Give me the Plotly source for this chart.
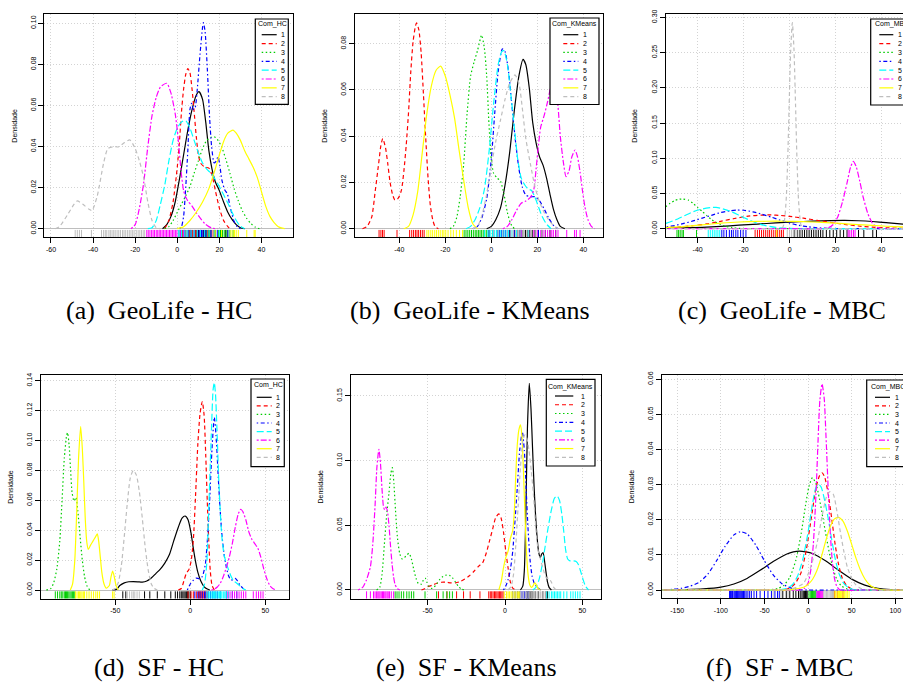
import plotly.graph_objects as go

W, H = 903, 684

COLORS = ["#000000", "#FF0000", "#00CD00", "#0000FF", "#00FFFF", "#FF00FF", "#FFFF00", "#BEBEBE"]
DASHES = ["solid", "4px,3px", "1.5px,2.5px", "1.5px,2.5px,4px,2.5px", "7px,3px",
          "2px,2px,6px,2px", "solid", "4px,3px"]
CLUSTER_LABELS = ["1", "2", "3", "4", "5", "6", "7", "8"]

# ---------------- (a) GeoLife - HC : density curves (x, density) ----------------
GEO_HC_1 = [(-7,0),(-5,0.002),(-3,0.006),(-1,0.013),(1,0.024),(3,0.036),(5,0.048),(7,0.058),(9,0.065),(10.3,0.0667),(12,0.063),(13.5,0.052),(15,0.038),(16.5,0.029),(18,0.023),(20,0.0185),(22,0.013),(24,0.008),(26,0.0045),(28,0.002),(30,0.0005),(32,0)]
GEO_HC_2 = [(-6,0),(-4,0.004),(-2,0.013),(0,0.03),(1,0.042),(2,0.057),(3,0.068),(4,0.075),(5,0.078),(6,0.076),(7,0.068),(8,0.057),(9,0.045),(10,0.036),(11,0.032),(13,0.030),(15,0.0295),(16.5,0.026),(18,0.019),(20,0.010),(22,0.004),(24,0.001),(25,0)]
GEO_HC_3 = [(-6,0),(-4,0.001),(-2,0.004),(0,0.008),(2,0.012),(4,0.016),(6,0.0205),(8,0.027),(10,0.033),(12,0.039),(14,0.043),(16,0.0445),(17.5,0.0448),(19,0.0435),(21,0.040),(23,0.034),(25,0.027),(27,0.0195),(29,0.0135),(31,0.0085),(33,0.005),(35,0.0025),(37,0.0008),(39,0)]
GEO_HC_4 = [(1,0),(2,0.001),(3,0.006),(4,0.02),(5,0.038),(6,0.058),(6.8,0.061),(7.6,0.058),(8.5,0.059),(9.5,0.068),(10.8,0.085),(12,0.098),(12.4,0.1003),(13.2,0.096),(14.3,0.077),(15.3,0.055),(16.3,0.040),(17.5,0.032),(18.5,0.033),(19.3,0.035),(20.2,0.031),(21.1,0.024),(22.5,0.019),(23.8,0.017),(25,0.011),(26,0.007),(27,0.0035),(28.5,0.001),(30,0)]
GEO_HC_5 = [(-14,0),(-12,0.0005),(-10,0.004),(-8,0.012),(-6,0.021),(-4,0.033),(-2,0.043),(0,0.049),(2,0.052),(4,0.0526),(6,0.049),(8,0.043),(10,0.037),(12,0.032),(14,0.029),(16,0.027),(18,0.024),(20,0.0205),(22,0.0165),(24,0.0125),(26,0.008),(28,0.004),(30,0.0012),(32,0)]
GEO_HC_6 = [(-22,0),(-20,0.002),(-18,0.01),(-16,0.022),(-14,0.04),(-12,0.055),(-10,0.064),(-8,0.069),(-5,0.0708),(-3,0.066),(-1,0.056),(0,0.048),(1,0.037),(2,0.026),(3,0.0185),(4,0.0155),(5,0.0135),(7,0.011),(9,0.0078),(11,0.005),(13,0.0025),(15,0.001),(17,0.0002),(19,0)]
GEO_HC_7 = [(0,0),(3,0.001),(6,0.004),(9,0.008),(12,0.013),(15,0.0195),(18,0.029),(20,0.036),(22,0.0425),(24,0.0465),(26.5,0.048),(28,0.0465),(30,0.043),(32,0.038),(34,0.034),(36,0.030),(38,0.025),(40,0.018),(42,0.011),(44,0.006),(46,0.003),(48,0.001),(51,0)]
GEO_HC_8 = [(-58,0),(-56,0.001),(-52,0.007),(-49,0.012),(-47.5,0.0135),(-45,0.012),(-42,0.0095),(-40.5,0.0088),(-38,0.016),(-35,0.032),(-33,0.039),(-30,0.040),(-28,0.0398),(-25,0.042),(-22.5,0.0432),(-20,0.039),(-18,0.033),(-16,0.025),(-14,0.013),(-12,0.004),(-10,0.0005),(-8,0)]

# ---------------- (b) GeoLife - KMeans ----------------
GEO_KM_1 = [(-2,0),(0,0.001),(2,0.004),(4,0.009),(6,0.019),(8,0.033),(10,0.051),(12,0.066),(13.8,0.0732),(15,0.071),(16.5,0.061),(18,0.046),(19.5,0.037),(21,0.031),(22.5,0.0275),(24,0.022),(25.5,0.015),(27,0.0085),(28.5,0.004),(30,0.001),(32,0)]
GEO_KM_2 = [(-56,0),(-54,0.001),(-52,0.005),(-50.5,0.016),(-49,0.028),(-48,0.036),(-47.2,0.039),(-46,0.035),(-45,0.028),(-44,0.020),(-43,0.015),(-42,0.0125),(-41,0.0125),(-40,0.014),(-39,0.017),(-38,0.025),(-37,0.036),(-36,0.05),(-35,0.068),(-34,0.081),(-33,0.0875),(-32.5,0.089),(-31.5,0.086),(-30.5,0.076),(-29.5,0.058),(-28.5,0.039),(-27.5,0.022),(-26.5,0.01),(-25.5,0.004),(-24.5,0.001),(-23,0)]
GEO_KM_3 = [(-18,0),(-16.5,0.001),(-15,0.005),(-13.5,0.014),(-12,0.028),(-10.5,0.05),(-9,0.066),(-7.5,0.072),(-6,0.077),(-4.2,0.0837),(-3,0.078),(-2,0.066),(-1,0.045),(0,0.03),(1,0.024),(2.5,0.022),(4,0.0205),(5.5,0.015),(7,0.007),(8.5,0.002),(10,0)]
GEO_KM_4 = [(-8,0),(-6,0.001),(-4,0.005),(-2,0.013),(0,0.03),(1.5,0.05),(3,0.068),(4.8,0.0778),(6,0.0765),(7.5,0.068),(9,0.053),(10.5,0.038),(12,0.026),(13.5,0.018),(15,0.0145),(17,0.0138),(19,0.0138),(21,0.012),(23,0.0085),(25,0.0045),(27,0.0015),(29,0)]
GEO_KM_5 = [(-11,0),(-9,0.001),(-7,0.004),(-5,0.009),(-3,0.017),(-1,0.033),(1,0.054),(3,0.071),(4.5,0.0765),(5.5,0.077),(7,0.071),(8.5,0.058),(10,0.044),(11.5,0.030),(13,0.022),(14.5,0.019),(16,0.0172),(17.5,0.0165),(19,0.0135),(20.5,0.0095),(22,0.0055),(24,0.002),(26,0)]
GEO_KM_6 = [(5,0),(7,0.001),(9,0.004),(11,0.008),(13,0.011),(15,0.012),(17,0.0135),(18.5,0.017),(19.5,0.026),(20.5,0.036),(21.5,0.044),(23,0.049),(24.5,0.055),(26,0.062),(27,0.0643),(28,0.061),(29,0.053),(30,0.04),(31.3,0.029),(32.5,0.0225),(33.8,0.025),(35,0.031),(36.4,0.034),(37.5,0.031),(38.6,0.0245),(39.7,0.016),(40.7,0.0095),(42,0.004),(43.5,0.001),(45,0)]
GEO_KM_7 = [(-38,0),(-36,0.001),(-34,0.006),(-32,0.016),(-30,0.033),(-28,0.05),(-26,0.062),(-24,0.0685),(-22,0.0703),(-20,0.066),(-18,0.058),(-16,0.048),(-14,0.034),(-12,0.021),(-10,0.009),(-8,0.002),(-6,0)]
GEO_KM_8 = [(-8,0),(-6,0.001),(-4,0.006),(-2,0.015),(0,0.027),(2,0.038),(4,0.047),(6,0.056),(8,0.063),(10.3,0.0665),(12,0.063),(13.5,0.052),(15,0.039),(17,0.028),(19,0.018),(21,0.0115),(23,0.007),(25,0.0038),(27,0.0015),(29,0)]

# ---------------- (c) GeoLife - MBC ----------------
GEO_MBC_1 = [(-58,0.0005),(-54,0.0008),(-46,0.0013),(-38,0.002),(-30,0.0033),(-22,0.005),(-14,0.0066),(-6,0.0082),(2,0.0096),(10,0.0108),(18,0.0116),(24,0.0118),(30,0.0113),(36,0.0102),(42,0.0085),(49.3,0.0065),(53,0.0055)]
GEO_MBC_2 = [(-58,0.0012),(-54,0.0015),(-48,0.0025),(-42,0.0042),(-36,0.0068),(-30,0.0105),(-24,0.0145),(-18,0.0178),(-12,0.0193),(-8,0.0195),(-4,0.0188),(0,0.0175),(6,0.015),(12,0.0118),(18,0.0088),(24,0.006),(30,0.0038),(36,0.0022),(42,0.0012),(49.3,0.0006),(53,0.0004)]
GEO_MBC_3 = [(-58,0.021),(-54,0.031),(-52,0.036),(-50,0.040),(-48,0.0418),(-46.5,0.042),(-44,0.0405),(-42,0.036),(-40,0.030),(-38,0.0245),(-36,0.0185),(-34,0.013),(-32,0.009),(-30,0.006),(-28,0.0035),(-25,0.0015),(-22,0.0005),(-18,0),(0,0),(30,0),(53,0)]
GEO_MBC_4 = [(-58,0.0012),(-54,0.0025),(-50,0.0045),(-46,0.0075),(-42,0.011),(-38,0.015),(-34,0.019),(-30,0.023),(-26,0.0255),(-23,0.0265),(-20,0.0262),(-16,0.024),(-12,0.0205),(-8,0.0165),(-4,0.012),(0,0.008),(4,0.0048),(8,0.0027),(12,0.0013),(16,0.0006),(20,0.0002),(26,0),(40,0),(53,0)]
GEO_MBC_5 = [(-58,0.004),(-54,0.0075),(-50,0.012),(-46,0.018),(-42,0.024),(-38,0.028),(-34,0.030),(-32,0.0302),(-30,0.029),(-26,0.025),(-22,0.019),(-18,0.013),(-14,0.0075),(-10,0.004),(-6,0.0018),(-2,0.0007),(2,0.0002),(8,0),(30,0),(53,0)]
GEO_MBC_6 = [(-58,0),(-30,0),(0,0),(14,0),(17,0.0015),(19,0.006),(21,0.017),(23,0.038),(25,0.065),(26.5,0.087),(27.7,0.0956),(29,0.088),(30.5,0.068),(32,0.045),(34,0.022),(36,0.008),(38,0.002),(40,0.0003),(42,0),(53,0)]
GEO_MBC_7 = [(-58,0.0008),(-54,0.0015),(-46,0.003),(-38,0.0055),(-30,0.0078),(-22,0.0095),(-14,0.0104),(-6,0.0107),(2,0.0104),(10,0.0095),(18,0.0082),(26,0.0066),(34,0.005),(42,0.0035),(49.3,0.0025),(53,0.002)]
GEO_MBC_8 = [(-58,0),(-30,0),(-10,0),(-3.5,0),(-2.5,0.006),(-1.5,0.04),(-0.8,0.1),(-0.2,0.175),(0.5,0.255),(1.2,0.2925),(1.9,0.255),(2.6,0.175),(3.2,0.1),(3.9,0.04),(4.9,0.006),(6,0),(15,0),(53,0)]

# ---------------- (d) SF - HC ----------------
SF_HC_1 = [(-52,0),(-49,0.0005),(-47,0.003),(-44,0.0048),(-41,0.0055),(-38,0.0056),(-35,0.0055),(-32,0.0053),(-29,0.006),(-26,0.008),(-23,0.011),(-20,0.014),(-17,0.018),(-14,0.0235),(-11,0.033),(-8,0.042),(-5.5,0.048),(-3.5,0.0495),(-1.5,0.047),(0.5,0.038),(2,0.028),(3.5,0.019),(5,0.012),(7,0.006),(9,0.0025),(11,0.0008),(13,0)]
SF_HC_2 = [(-8,0),(-6,0.001),(-4,0.007),(-2.5,0.0115),(-1,0.0135),(0.5,0.019),(2,0.033),(3.5,0.063),(5,0.097),(6.5,0.118),(8,0.126),(9.2,0.117),(10.3,0.09),(11.3,0.06),(12.3,0.033),(13.3,0.013),(14.5,0.003),(16,0)]
SF_HC_3 = [(-96,0),(-93,0.001),(-91,0.005),(-89,0.014),(-87,0.033),(-85.5,0.06),(-84,0.088),(-82.5,0.103),(-81.8,0.1052),(-80.8,0.097),(-79.8,0.08),(-78.8,0.065),(-77.5,0.0595),(-76.2,0.062),(-75,0.053),(-73.5,0.036),(-72,0.02),(-70.5,0.009),(-69,0.003),(-67,0)]
SF_HC_4 = [(-2,0),(0,0.004),(2,0.0065),(4,0.008),(6,0.0075),(8,0.009),(10,0.017),(11.5,0.035),(13,0.062),(14.5,0.095),(16,0.1155),(17.2,0.103),(18.5,0.078),(19.8,0.055),(21,0.038),(22.5,0.024),(24,0.0155),(25.5,0.0095),(27,0.0068),(28.5,0.0068),(30,0.0078),(31.5,0.006),(33,0.0035),(35,0.0012),(37,0)]
SF_HC_5 = [(8,0),(9.5,0.004),(11,0.018),(12,0.045),(13,0.075),(14.2,0.11),(15.2,0.134),(16,0.1387),(16.8,0.131),(17.8,0.107),(18.8,0.078),(19.8,0.056),(21,0.036),(22.5,0.0235),(24,0.018),(25.5,0.0135),(27,0.0095),(29,0.006),(31,0.0045),(33,0.0028),(35,0.001),(37,0)]
SF_HC_6 = [(14,0),(16,0.0005),(18,0.002),(20,0.0045),(22,0.009),(24,0.015),(26,0.022),(28,0.031),(30,0.042),(32,0.051),(33.6,0.054),(35,0.0525),(37,0.047),(39,0.039),(41,0.034),(43,0.031),(45,0.028),(47,0.022),(49,0.014),(51,0.0075),(53,0.003),(55,0.001),(57,0)]
SF_HC_7 = [(-80,0),(-78.5,0.004),(-77,0.02),(-75.8,0.05),(-74.5,0.088),(-73.1,0.1093),(-72,0.095),(-71,0.072),(-70,0.047),(-69,0.032),(-68,0.0272),(-66.5,0.030),(-65,0.0325),(-63.5,0.035),(-62,0.0375),(-61,0.032),(-60,0.022),(-59,0.012),(-57.5,0.004),(-56,0.0012),(-54,0.003),(-53,0.008),(-51.8,0.0127),(-50.7,0.009),(-49.5,0.003),(-48,0)]
SF_HC_8 = [(-52,0),(-50,0.001),(-48,0.005),(-46,0.016),(-44,0.036),(-42,0.058),(-40,0.075),(-38,0.080),(-36,0.077),(-34,0.066),(-32,0.048),(-30,0.028),(-28,0.013),(-26,0.004),(-24,0.001),(-22,0)]

# ---------------- (e) SF - KMeans ----------------
SF_KM_1 = [(10,0),(11.5,0.003),(12.5,0.015),(13.5,0.06),(14.5,0.125),(15.7,0.1598),(16.8,0.14),(17.8,0.11),(18.8,0.08),(19.8,0.057),(20.8,0.04),(21.8,0.029),(22.8,0.025),(23.8,0.028),(24.6,0.029),(25.5,0.023),(26.5,0.014),(27.5,0.006),(28.5,0.002),(30,0)]
SF_KM_2 = [(-54,0),(-52,0.001),(-50,0.0025),(-47,0.0037),(-44,0.0052),(-41,0.006),(-38,0.006),(-35,0.0055),(-32,0.0055),(-29,0.0065),(-26,0.0085),(-23,0.011),(-20,0.0145),(-17,0.0185),(-14.5,0.021),(-12,0.029),(-10,0.038),(-8,0.047),(-6,0.056),(-4,0.0588),(-2.5,0.0555),(-1,0.045),(0.5,0.03),(2,0.017),(3.5,0.006),(5,0.0015),(7,0)]
SF_KM_3 = [(-83,0),(-81,0.002),(-79.5,0.012),(-78,0.035),(-76.5,0.058),(-75,0.075),(-73.8,0.09),(-72.8,0.0946),(-71.8,0.082),(-70.8,0.062),(-69.5,0.04),(-68,0.028),(-66.5,0.024),(-65,0.025),(-63.5,0.027),(-62,0.0284),(-60.5,0.024),(-59,0.016),(-57.5,0.009),(-56,0.005),(-54,0.0045),(-52.5,0.0085),(-51.5,0.009),(-50.5,0.006),(-49,0.0025),(-47.5,0.0012),(-46,0.002),(-44,0.005),(-42,0.0085),(-40,0.0105),(-38,0.0115),(-36,0.0114),(-34,0.0095),(-32,0.006),(-30,0.0025),(-28,0.0006),(-26,0)]
SF_KM_4 = [(-1,0),(0.5,0.003),(2,0.008),(3.5,0.016),(5,0.03),(6.5,0.054),(8,0.08),(9.5,0.108),(11.2,0.1224),(12.5,0.108),(13.6,0.08),(15,0.045),(16.3,0.022),(17.5,0.011),(19,0.005),(21,0.002),(23,0)]
SF_KM_5 = [(18,0),(20,0.002),(22,0.008),(24,0.019),(26,0.034),(28,0.049),(30,0.062),(32,0.071),(33.8,0.0727),(35.3,0.069),(36.8,0.058),(38,0.045),(39.2,0.031),(40.5,0.024),(42,0.0225),(44,0.0225),(46,0.022),(47.5,0.0195),(49,0.014),(50.5,0.008),(52,0.003),(54,0)]
SF_KM_6 = [(-95,0),(-92,0.002),(-89.5,0.008),(-87,0.018),(-85.5,0.035),(-84,0.065),(-82.8,0.095),(-81.5,0.1088),(-80.5,0.098),(-79.5,0.078),(-78.5,0.064),(-77.7,0.062),(-76.9,0.064),(-76,0.061),(-75,0.05),(-74,0.034),(-73,0.02),(-72,0.01),(-71,0.004),(-69.5,0.001),(-68,0)]
SF_KM_7 = [(-4,0),(-2.5,0.006),(-1,0.017),(0.5,0.025),(2,0.03),(3.5,0.04),(5,0.046),(6,0.06),(7,0.09),(8,0.113),(9,0.124),(10,0.1276),(11,0.118),(12,0.09),(13,0.055),(14,0.027),(15,0.011),(16,0.004),(17,0.002),(18,0.003),(19.2,0.0055),(20.3,0.004),(21.5,0.001),(23,0)]
SF_KM_8 = [(2,0),(4,0.003),(5.5,0.012),(7,0.035),(8.5,0.065),(10,0.095),(11.5,0.115),(12.8,0.12),(14,0.118),(15.5,0.108),(17,0.092),(18.3,0.075),(19.5,0.055),(20.5,0.04),(21.5,0.03),(22.7,0.025),(24,0.019),(25.5,0.013),(27,0.009),(28.5,0.009),(30,0.006),(31.5,0.002),(33,0)]

# ---------------- (f) SF - MBC ----------------
SF_MBC_1 = [(-170,0),(-140,0.0001),(-120,0.0003),(-100,0.0008),(-85,0.0017),(-70,0.0033),(-55,0.0056),(-40,0.0081),(-25,0.0102),(-10,0.0111),(5,0.0104),(20,0.0083),(35,0.0056),(50,0.0031),(65,0.0014),(80,0.0005),(95,0.0001),(112,0)]
SF_MBC_2 = [(-170,0),(-40,0),(-30,0),(-22,0.0004),(-15,0.0018),(-8,0.005),(-2,0.0115),(4,0.021),(9,0.029),(13,0.0325),(16,0.0334),(19,0.0322),(23,0.0275),(27,0.0205),(31,0.013),(35,0.0072),(39,0.0035),(44,0.0013),(50,0.0003),(56,0),(70,0),(112,0)]
SF_MBC_3 = [(-170,0),(-55,0),(-45,0),(-35,0.0004),(-28,0.0013),(-21,0.0036),(-14,0.0085),(-8,0.016),(-3,0.024),(1,0.0295),(5,0.032),(9,0.0303),(13,0.026),(17,0.0205),(21,0.015),(25,0.0098),(29,0.0058),(33,0.003),(38,0.0012),(44,0.0004),(50,0),(70,0),(112,0)]
SF_MBC_4 = [(-170,0),(-155,0.0002),(-145,0.0005),(-135,0.0011),(-125,0.0022),(-115,0.0045),(-105,0.0083),(-95,0.0125),(-85,0.0157),(-77.6,0.0166),(-70,0.016),(-60,0.0128),(-50,0.0083),(-40,0.0043),(-30,0.0018),(-20,0.0006),(-10,0.0001),(0,0),(30,0),(112,0)]
SF_MBC_5 = [(-170,0),(-50,0),(-35,0),(-25,0.0004),(-18,0.0015),(-12,0.004),(-6,0.0088),(0,0.0165),(5,0.0245),(9,0.0292),(12,0.0301),(15,0.0293),(19,0.0255),(23,0.0205),(27,0.0145),(31,0.009),(35,0.005),(40,0.0022),(46,0.0007),(52,0.0001),(58,0),(80,0),(112,0)]
SF_MBC_6 = [(-170,0),(-30,0),(-10,0),(-4,0.0005),(0,0.002),(3,0.0055),(6,0.013),(9,0.027),(11.5,0.043),(13.5,0.054),(16,0.0587),(18.5,0.0545),(20.5,0.044),(23,0.029),(25.5,0.016),(28,0.0075),(30.5,0.003),(33,0.001),(37,0),(60,0),(112,0)]
SF_MBC_7 = [(-170,0),(-40,0),(-25,0),(-15,0.0003),(-5,0.0008),(0,0.0016),(5,0.003),(10,0.0055),(15,0.0092),(20,0.0138),(25,0.0178),(30,0.0202),(35,0.0207),(40,0.0196),(45,0.0168),(50,0.013),(55,0.009),(60,0.0057),(65,0.0032),(70,0.0016),(75,0.0007),(82,0.0002),(90,0),(112,0)]
SF_MBC_8 = [(-170,0),(-40,0),(-25,0),(-15,0.0006),(-5,0.002),(3,0.0065),(10,0.013),(16,0.021),(21,0.0265),(25,0.028),(29,0.0272),(33,0.0225),(37,0.0165),(41,0.011),(45,0.0065),(50,0.0033),(55,0.0014),(60,0.0005),(66,0),(90,0),(112,0)]

# ---------------- rug positions per cluster ----------------
RUG_GEO_HC = [
    [1.7,3.2,6,7,8.5,9.3,10.1,10.9,11.7,12.5,13.3,14.8,16,18,20.5,23],
    [0.8,2.5,3.8,4.6,5.4,6.2,7.4,8.8,11,14.5,17],
    [14,15.2,17.8,19.5,20.5,21.5,22.3,23.2,24,25,26.5],
    [3.5,5.2,6.5,8,9.8,10.7,11.5,12.2,13,13.7,16,19,21,24],
    [0.5,1.2,2,2.8,3.5,4.2,5,6.5,8,9.5,11,13,15,17.5,20],
    [-14.5,-13.8,-13,-12.2,-11.5,-10.8,-10,-9.3,-8.6,-7.9,-7.2,-6.5,-5.8,-5.1,-4.4,-3.7,-3,-2.3,-1.6,-0.9,-0.2,1.5,3],
    [18,21,25.5,26.5,27.2,28,29,33,36.5,37],
    [-48.5,-47.5,-46.5,-45.5,-40.8,-36,-35,-34.2,-33.5,-32.5,-31.8,-31,-30.2,-29.5,-28.6,-27.8,-27,-26,-25.3,-24.5,-23.6,-22.8,-22,-21.2,-20.5,-19.5,-18.6,-17.8,-17,-16.2,-15.5],
]
RUG_GEO_KM = [
    [8,10,11.5,12.5,13.3,14.1,14.9,15.7,16.5,17.8,19,20.5,22,23.5,25.5,28],
    [-48.8,-48,-47.3,-46.6,-41,-35.5,-34.6,-33.8,-33,-32.3,-31.6,-30.8,-30,-29.2],
    [-11.8,-11,-10.2,-9.4,-8.6,-7.8,-7,-6.3,-5.6,-4.9,-4.2,-3.5,-2.8,-2,-1,0.5,3],
    [-1,1,2.5,3.5,4.5,5.3,6.1,7,8.2,10,12.5,17,20.5],
    [-3,-1.5,-0.5,0.5,1.5,2.3,3.1,3.9,4.7,5.5,6.4,7.5,9,11,13,16],
    [13,17,18.5,20,21.5,22.5,23.5,24.5,25.5,26.3,27,28,29,32.8,36.2,37,38.6],
    [-28,-27.2,-26.3,-25.5,-24.6,-23.8,-23,-22.2,-21.3,-20.6,-19.8,-18.8,-17.6,-16.5,-15.2,-13.8,-12.5],
    [1,3,5,7,8.5,9.5,10.5,11.5,12.5,14,15.5,17,19.5,22],
]
RUG_GEO_MBC = [
    [2,3.5,4.5,5.5,6.5,7.5,8.5,9.5,10.5,11.5,12.5,13.5,14.5,16,17.5,19,20.5,22,23.5,25,30,32.3,36.2,37.8],
    [-15,-14,-13.1,-12.2,-11.3,-10.4,-9.5,-8.7,-7.8,-6.9,-6,-5.2,-4.3,-3.5,-2.7],
    [-49,-48.3,-47.6,-46.8,-46.2,-40.5],
    [-29.5,-28.6,-27.5,-26.2,-25.3,-24.5,-23.4,-22.5,-21.3,-20.2,-19],
    [-35.4,-34.5,-33.6,-32.8,-32,-31.2,-30.4],
    [25.5,26.2,27,27.8,28.5],
    [-5.6],
    [-1,0,0.8,1.6,2.4,3.2],
]
RUG_SF_HC = [
    [-45,-43,-30.5,-27,-22,-17,-13,-10,-8.5,-7,-6,-5,-4.2,-3.4,-2.6,-1.8,-1,0],
    [-1.5,0.5,2,4,5.5,6.3,7,7.7,8.4,9.1,10,11.2],
    [-90,-88.5,-87,-86,-85,-84,-83.2,-82.5,-81.8,-81,-80.2,-79.4,-78.6,-77.8,-77],
    [3,5,6.5,8,9.5,10.5,12,13.5,15,16.5,18,20,24,28,31],
    [11,12,13,13.8,14.6,15.4,16.2,17,17.8,18.6,19.4,20.2,21,22,23,24,25.5],
    [25,26.5,28,29.5,31,32.5,34,35.5,37,42,44,45.5,47,48.5],
    [-76.5,-75.5,-74.5,-73.8,-73,-72.2,-71.3,-70.5,-69,-67.5,-66,-64.5,-63,-61.8,-60.5,-51.8,-50.8],
    [-42,-40.5,-39,-38,-37,-35.5,-34],
]
RUG_SF_KM = [
    [14,14.8,15.5,16.2,17,18,19.5,21.5,24.5,26.5,27.5],
    [-43,-37.5,-31.3,-26.8,-22.5,-16.2,-10.5,-9.5,-8.6,-7.7,-6.8,-6,-5.2,-4.4,-3.6,-2.8,-2,-1.2],
    [-71,-69.8,-68.5,-67,-65.5,-63.5,-62,-60.5,-59,-51.7,-44.2,-40,-37.6,-35.8,-34],
    [5,6.5,8,9.2,10.2,11,11.8,12.6,13.6,15],
    [27,28.5,30,31,32,33,34,35,36,38,40,42.5,44,45.5,47,48.5],
    [-89.5,-87,-85,-84,-83,-82.2,-81.5,-80.8,-80,-79.2,-78.5,-77.7,-77,-76.2,-75.5,-74.7,-73.5,-72],
    [-0.5,1,2,3,4,5,6,7,8,8.8,9.5],
    [10,11,12,13,14,15,16,17,18,19,20,21,22,23,24,25,26],
]
RUG_SF_MBC = [
    [-29,-25,-21,-17,-14,-11,-9,-7,-5.5,-4,-3,-2,-1],
    [28.5,30.5,33.5,40],
    [1,2.5,4,5,6,7,8,9],
    [-90,-89,-88,-87,-86.5,-85,-84,-83,-82,-81,-80,-79,-78,-77,-76,-75,-74,-73.5,-72.5,-71,-69,-67,-65,-62,-59,-55,-50,-46,-42,-38,-35,-33],
    [10.5,12.5],
    [10,11,12,13,14,15,16,17],
    [29.5,31,32,34,35,36,37,38,39,41,42,43.5,45,47],
    [-40,-31,-23,18,19.5,21,22.5,24,25.5,27,28,29],
]

# ---------------- ticks ----------------
XT_GEO = [-40, -20, 0, 20, 40]
XT_GEO_HC = [-60, -40, -20, 0, 20, 40]
XT_SF = [-50, 0, 50]
XT_SF_MBC = [-150, -100, -50, 0, 50, 100]
YT_A = [0, 0.02, 0.04, 0.06, 0.08, 0.10]
YT_B = [0, 0.02, 0.04, 0.06, 0.08]
YT_C = [0, 0.05, 0.10, 0.15, 0.20, 0.25, 0.30]
YT_D = [0, 0.02, 0.04, 0.06, 0.08, 0.10, 0.12, 0.14]
YT_E = [0, 0.05, 0.10, 0.15]
YT_F = [0, 0.01, 0.02, 0.03, 0.04, 0.05, 0.06]

CAPTIONS = ["(a)\u00a0\u00a0GeoLife - HC", "(b)\u00a0\u00a0GeoLife - KMeans", "(c)\u00a0\u00a0GeoLife - MBC",
            "(d)\u00a0\u00a0SF - HC", "(e)\u00a0\u00a0SF - KMeans", "(f)\u00a0\u00a0SF - MBC"]
LEGEND_TITLES = ["Com_HC", "Com_KMeans", "Com_MBC", "Com_HC", "Com_KMeans", "Com_MBC"]

# ---------------- layout geometry (pixels) ----------------
PANELS = [
    dict(curves=[GEO_HC_1, GEO_HC_2, GEO_HC_3, GEO_HC_4, GEO_HC_5, GEO_HC_6, GEO_HC_7, GEO_HC_8], rugs=RUG_GEO_HC,
         frame=(44.3, 293.3, 14, 237.3), xr=(-63.18, 55.11), yr=(-0.00419, 0.10453), xt=XT_GEO_HC, yt=YT_A,
         ylab_x=15, cap=(159, 310), mirror=True,
         leg=dict(box=(255.3, 288.3, 19, 104.3), title=(272, 24, 'center'), line=(261.7, 276.7), lab=282.7, y0=34.7, dy=8.86)),
    dict(curves=[GEO_KM_1, GEO_KM_2, GEO_KM_3, GEO_KM_4, GEO_KM_5, GEO_KM_6, GEO_KM_7, GEO_KM_8], rugs=RUG_GEO_KM,
         frame=(355, 603, 14, 237.3), xr=(-59.26, 48.57), yr=(-0.00372, 0.09284), xt=XT_GEO, yt=YT_B,
         ylab_x=325, cap=(470, 310), mirror=True,
         leg=dict(box=(550, 599, 18, 104.5), title=(574.5, 24, 'center'), line=(563.3, 578.3), lab=585, y0=34.7, dy=8.86)),
    dict(curves=[GEO_MBC_1, GEO_MBC_2, GEO_MBC_3, GEO_MBC_4, GEO_MBC_5, GEO_MBC_6, GEO_MBC_7, GEO_MBC_8], rugs=RUG_GEO_MBC,
         frame=(665.7, 903, 14, 237.3), xr=(-53.91, 49.35), yr=(-0.01221, 0.3048), xt=XT_GEO, yt=YT_C,
         ylab_x=635, cap=(781.5, 310), mirror=False,
         leg=dict(box=(870.7, 935, 19, 105), title=(872.5, 24, 'left'), line=(879.3, 893.3), lab=900, y0=34.7, dy=8.86)),
    dict(curves=[SF_HC_1, SF_HC_2, SF_HC_3, SF_HC_4, SF_HC_5, SF_HC_6, SF_HC_7, SF_HC_8], rugs=RUG_SF_HC,
         frame=(40.7, 289.3, 375, 598.7), xr=(-99.73, 66.0), yr=(-0.00582, 0.1438), xt=XT_SF, yt=YT_D,
         ylab_x=11, cap=(158.5, 667), mirror=True,
         leg=dict(box=(251, 284.3, 379, 466.7), title=(268, 385, 'center'), line=(256.7, 271.7), lab=278.3, y0=397.3, dy=8.57)),
    dict(curves=[SF_KM_1, SF_KM_2, SF_KM_3, SF_KM_4, SF_KM_5, SF_KM_6, SF_KM_7, SF_KM_8], rugs=RUG_SF_KM,
         frame=(351, 601, 375, 598.7), xr=(-99.55, 62.06), yr=(-0.00673, 0.1662), xt=XT_SF, yt=YT_E,
         ylab_x=320.7, cap=(466.5, 667), mirror=True,
         leg=dict(box=(546.3, 595, 379.3, 466), title=(570.7, 386.7, 'center'), line=(555, 573.3), lab=582.7, y0=396, dy=8.76)),
    dict(curves=[SF_MBC_1, SF_MBC_2, SF_MBC_3, SF_MBC_4, SF_MBC_5, SF_MBC_6, SF_MBC_7, SF_MBC_8], rugs=RUG_SF_MBC,
         frame=(661.7, 903, 375, 598.3), xr=(-167.8, 108.8), yr=(-0.00236, 0.06123), xt=XT_SF_MBC, yt=YT_F,
         ylab_x=631.7, cap=(779.5, 667), mirror=False,
         leg=dict(box=(866.7, 935, 380, 466.7), title=(869.3, 386.7, 'left'), line=(875, 890), lab=896.7, y0=397.3, dy=8.57)),
]

TICK_FONT = dict(family="Liberation Sans, Arial, sans-serif", size=7, color="#000000")
SMALL_FONT = dict(family="Liberation Sans, Arial, sans-serif", size=7, color="#000000")
CAP_FONT = dict(family="Liberation Serif, Times New Roman, serif", size=26, color="#000000")


def fx(px):
    return px / W


def fy(py):
    return 1 - py / H


fig = go.Figure()
layout = dict(width=W, height=H, margin=dict(l=0, r=0, t=0, b=0, pad=0, autoexpand=False),
              paper_bgcolor="white", plot_bgcolor="white", showlegend=False)
shapes = []
annotations = []

for i, p in enumerate(PANELS):
    n = i + 1
    sfx = "" if n == 1 else str(n)
    xa, ya = "x" + sfx, "y" + sfx
    L, R, T, B = p["frame"]
    yr = p["yr"]
    xt, yt = p["xt"], p["yt"]
    ytext = ["%.2f" % v for v in yt]
    xtext = [str(v) for v in xt]
    layout["xaxis" + sfx] = dict(
        domain=[fx(L), fx(R)], range=list(p["xr"]), anchor=ya, tickmode="array", tickvals=xt, ticktext=xtext,
        ticks="outside", ticklen=5, tickwidth=1, tickcolor="#000", tickfont=TICK_FONT,
        showgrid=True, gridcolor="#d3d3d3", griddash="1px,2px", gridwidth=1, zeroline=False,
        showline=True, mirror=True, linecolor="#000", linewidth=1, fixedrange=True)
    layout["yaxis" + sfx] = dict(
        domain=[fy(B), fy(T)], range=list(yr), anchor=xa, tickmode="array", tickvals=yt, ticktext=ytext,
        tickangle=-90, ticks="outside", ticklen=5, tickwidth=1, tickcolor="#000", tickfont=TICK_FONT,
        showgrid=True, gridcolor="#d3d3d3", griddash="1px,2px", gridwidth=1,
        zeroline=True, zerolinecolor="#bebebe", zerolinewidth=1,
        showline=True, mirror=p["mirror"], linecolor="#000", linewidth=1, fixedrange=True)

    # density curves
    for k, curve in enumerate(p["curves"]):
        fig.add_trace(go.Scatter(
            x=[c[0] for c in curve], y=[c[1] for c in curve], mode="lines",
            line=dict(color=COLORS[k], width=1.2, dash=DASHES[k], shape="spline", smoothing=0.6),
            xaxis=xa, yaxis=ya, hoverinfo="skip"))

    # rug ticks
    y0 = yr[0]
    y1 = yr[0] + 0.033 * (yr[1] - yr[0])
    for k, rug in enumerate(p["rugs"]):
        rx, ry = [], []
        for v in rug:
            rx += [v, v, None]
            ry += [y0, y1, None]
        fig.add_trace(go.Scatter(x=rx, y=ry, mode="lines", line=dict(color=COLORS[k], width=1),
                                 xaxis=xa, yaxis=ya, hoverinfo="skip"))

    # y-axis title
    annotations.append(dict(text="Densidade", x=fx(p["ylab_x"]), y=fy((T + B) / 2), xref="paper", yref="paper",
                            textangle=-90, showarrow=False, font=SMALL_FONT, xanchor="center", yanchor="middle"))
    # caption
    annotations.append(dict(text=CAPTIONS[i], x=fx(p["cap"][0]), y=fy(p["cap"][1]), xref="paper", yref="paper",
                            showarrow=False, font=CAP_FONT, xanchor="center", yanchor="middle"))

    # legend box (white, above the grid) with line samples
    lg = p["leg"]
    bx0, bx1, by0, by1 = lg["box"]
    shapes.append(dict(type="rect", xref="paper", yref="paper", x0=fx(bx0), x1=fx(bx1),
                       y0=fy(by1), y1=fy(by0), line=dict(color="#000", width=1.2), fillcolor="white",
                       layer="above"))
    tx, ty, tanchor = lg["title"]
    annotations.append(dict(text=LEGEND_TITLES[i], x=fx(tx), y=fy(ty), xref="paper", yref="paper",
                            showarrow=False, font=SMALL_FONT, xanchor=tanchor, yanchor="middle"))
    for k in range(8):
        ey = lg["y0"] + k * lg["dy"]
        shapes.append(dict(type="line", xref="paper", yref="paper",
                           x0=fx(lg["line"][0]), x1=fx(lg["line"][1]), y0=fy(ey), y1=fy(ey),
                           line=dict(color=COLORS[k], width=1.2, dash=DASHES[k]), layer="above"))
        annotations.append(dict(text=CLUSTER_LABELS[k], x=fx(lg["lab"]), y=fy(ey), xref="paper", yref="paper",
                                showarrow=False, font=SMALL_FONT, xanchor="center", yanchor="middle"))

layout["shapes"] = shapes
layout["annotations"] = annotations
fig.update_layout(**layout)
fig.write_html("out.html", config={"displayModeBar": False, "staticPlot": True},
               post_script="document.body.style.margin='0px';document.body.style.overflow='hidden';")
